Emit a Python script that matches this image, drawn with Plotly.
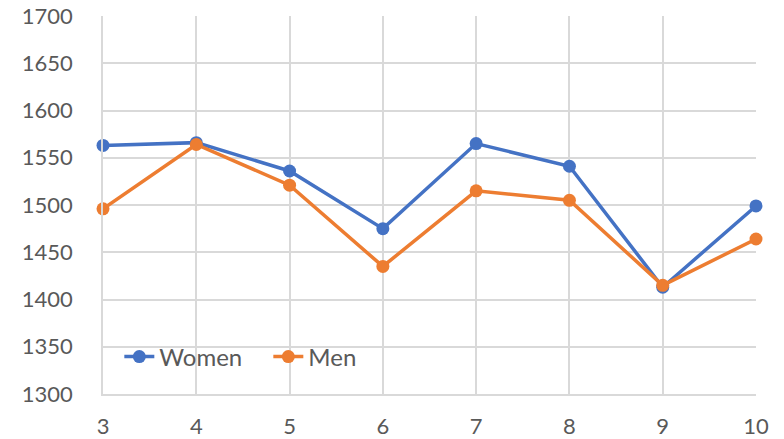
import plotly.graph_objects as go

# Series by group size
x_values = [3, 4, 5, 6, 7, 8, 9, 10]
women = [1563, 1566, 1536, 1475, 1565, 1541, 1413, 1499]
men = [1496, 1564, 1521, 1435, 1515, 1505, 1415, 1464]

y_ticks = [1300, 1350, 1400, 1450, 1500, 1550, 1600, 1650, 1700]

BLUE = "#4472C4"
ORANGE = "#ED7D31"
GRID = "#D9D9D9"
TEXT = "#595959"
FONT = "Lato, Open Sans, sans-serif"

fig = go.Figure()
fig.add_trace(go.Scatter(
    x=x_values, y=women, name="Women", mode="lines+markers", cliponaxis=False,
    line=dict(color=BLUE, width=3.5), marker=dict(color=BLUE, size=13),
))
fig.add_trace(go.Scatter(
    x=x_values, y=men, name="Men", mode="lines+markers", cliponaxis=False,
    line=dict(color=ORANGE, width=3.5), marker=dict(color=ORANGE, size=13),
))

fig.update_layout(
    width=784, height=439,
    margin=dict(l=103, r=28, t=16, b=45, autoexpand=False),
    paper_bgcolor="white", plot_bgcolor="white",
    font=dict(family=FONT, size=22, color=TEXT),
    showlegend=True,
    legend=dict(
        orientation="h", x=0.025, y=0.098, xanchor="left", yanchor="middle",
        bgcolor="rgba(0,0,0,0)", font=dict(family=FONT, size=24, color=TEXT),
        entrywidth=104, entrywidthmode="pixels", tracegroupgap=0,
    ),
    xaxis=dict(
        range=[3, 10], tickvals=x_values, ticktext=[str(v) for v in x_values],
        showgrid=True, gridcolor=GRID, gridwidth=1.5, automargin=False,
        zeroline=False, showline=True, linecolor=GRID, linewidth=1.5,
        ticks="", ticklabelstandoff=12, tickfont=dict(size=22, color=TEXT),
    ),
    yaxis=dict(
        range=[1300, 1700], tickvals=y_ticks,
        showgrid=True, gridcolor=GRID, gridwidth=1.5, automargin=False,
        zeroline=False, showline=True, linecolor=GRID, linewidth=1.5,
        ticks="", ticklabelstandoff=24, tickfont=dict(size=22, color=TEXT),
    ),
)

fig.write_html("out.html")
